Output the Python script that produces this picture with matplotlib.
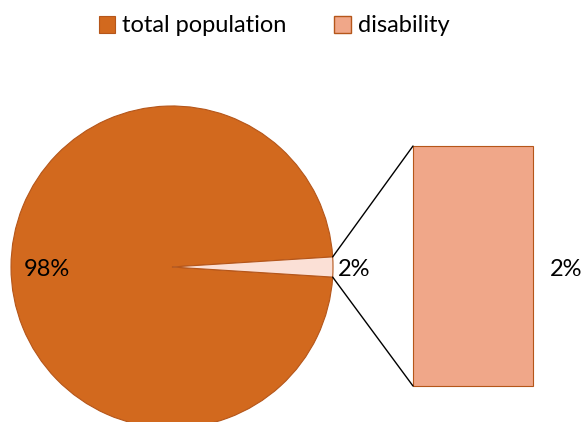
import numpy as np
import matplotlib.pyplot as plt
from matplotlib.patches import ConnectionPatch

plt.rcParams['font.family'] = ['Lato', 'DejaVu Sans']

labels = ["total population", "disability"]
values = [98, 2]
bar_values = [2]

pie_colors = ["#D2691E", "#FBE0D6"]
bar_color = "#F0A789"
edge_color = "#B5561A"

fig = plt.figure(figsize=(5.84, 4.22), dpi=100)

# pie axes in pixel-like coords (y up)
ax = fig.add_axes([0, 0, 1, 1])
cx, cy, r = 172, 155, 161
half = 360 * values[1] / sum(values) / 2
wedges, _ = ax.pie(values, colors=pie_colors, startangle=half, center=(cx, cy), radius=r,
                   wedgeprops=dict(edgecolor=edge_color, linewidth=0.8), frame=True)
ax.set_xlim(0, 584)
ax.set_ylim(0, 422)
ax.set_aspect('equal')
ax.axis('off')

pct = [100 * v / sum(values) for v in values]
ax.text(cx - 0.78 * r, cy - 2, f"{pct[0]:.0f}%", ha='center', va='center', fontsize=17)
ax.text(cx + 1.13 * r, cy - 2, f"{pct[1]:.0f}%", ha='center', va='center', fontsize=17)

# bar of pie
bax = fig.add_axes([413 / 584, 36 / 422, 120 / 584, 240 / 422])
bars = bax.bar([0], bar_values, width=1, color=bar_color, edgecolor=edge_color, linewidth=0.8)
for b in bars:
    b.set_clip_on(False)
bax.set_xlim(-0.5, 0.5)
bax.set_ylim(0, sum(bar_values))
bax.axis('off')
ax.text(566, cy - 2, f"{pct[1]:.0f}%", ha='center', va='center', fontsize=17)

# connector lines
for ang, by in [(half, sum(bar_values)), (-half, 0)]:
    px = cx + r * np.cos(np.radians(ang))
    py = cy + r * np.sin(np.radians(ang))
    con = ConnectionPatch(xyA=(-0.5, by), coordsA=bax.transData,
                          xyB=(px, py), coordsB=ax.transData,
                          color='black', linewidth=1)
    fig.add_artist(con)

fig.legend(wedges[:1] + [plt.Rectangle((0, 0), 1, 1, facecolor=bar_color, edgecolor=edge_color)],
           labels, loc='center', bbox_to_anchor=(274 / 584, 1 - 26 / 422), ncol=2,
           frameon=False, fontsize=17, handlelength=0.7, handleheight=0.7,
           handletextpad=0.3, columnspacing=2.0)

fig.savefig("out.png", dpi=100)
